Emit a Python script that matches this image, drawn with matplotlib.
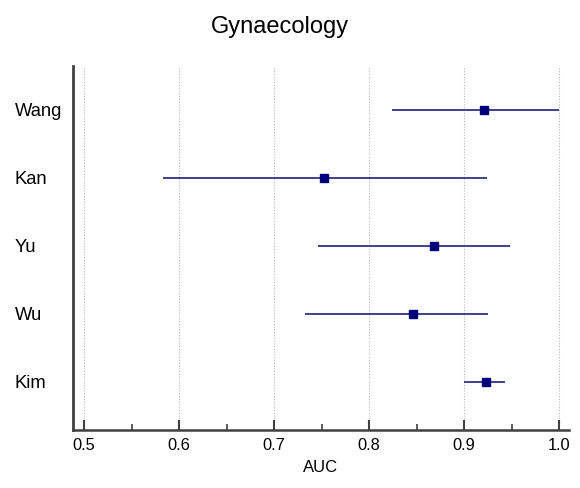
import numpy as np
import matplotlib
matplotlib.use("Agg")
import matplotlib.pyplot as plt
import matplotlib.ticker as mticker

plt.rcParams["font.family"] = ["Liberation Sans", "DejaVu Sans"]

# study results, top to bottom
studies = ["Wang", "Kan", "Yu", "Wu", "Kim"]
auc = [0.921, 0.753, 0.868, 0.846, 0.923]
ci_low = [0.824, 0.583, 0.746, 0.733, 0.900]
ci_high = [1.000, 0.924, 0.948, 0.925, 0.943]

LINE_C = "#3d4189"
MARK_C = "#00007a"
SPINE_C = "#404040"

fig = plt.figure(figsize=(5.8, 4.88), dpi=100)
ax = fig.add_axes([0.1259, 0.1189, 0.981 - 0.1259, 0.8648 - 0.1189])

ypos = np.arange(len(studies))[::-1] + 1
ax.hlines(ypos, ci_low, ci_high, color=LINE_C, linewidth=1.4, zorder=3)
ax.plot(auc, ypos, linestyle="none", marker="s", markersize=5.8,
        color=MARK_C, zorder=4)

ax.set_xlim(0.4884, 1.0105)
ax.set_ylim(0.294, 5.647)

ax.xaxis.set_major_locator(mticker.MultipleLocator(0.1))
ax.xaxis.set_minor_locator(mticker.MultipleLocator(0.05))
ax.xaxis.set_major_formatter(mticker.FormatStrFormatter("%.1f"))
ax.tick_params(axis="x", which="major", direction="in", length=7, width=1.5,
               color=SPINE_C, labelsize=11.8, pad=6)
ax.tick_params(axis="x", which="minor", direction="in", length=4, width=1.2,
               color=SPINE_C)

ax.set_yticks(ypos)
ax.set_yticklabels(studies)
ax.tick_params(axis="y", length=0, pad=41.8, labelsize=13.2)
for lbl in ax.get_yticklabels():
    lbl.set_horizontalalignment("left")

ax.grid(axis="x", which="major", linestyle=(0, (1, 1.5)), color="#b8b8b8",
        linewidth=0.8, zorder=0)

for side in ("top", "right"):
    ax.spines[side].set_visible(False)
ax.spines["left"].set_color(SPINE_C)
ax.spines["left"].set_linewidth(2.0)
ax.spines["bottom"].set_color(SPINE_C)
ax.spines["bottom"].set_linewidth(1.8)

ax.set_xlabel("AUC", fontsize=12, labelpad=5)
fig.text(280 / 580, 1 - 27 / 488, "Gynaecology", fontsize=17,
         ha="center", va="center")

fig.savefig("out.png", dpi=100)
